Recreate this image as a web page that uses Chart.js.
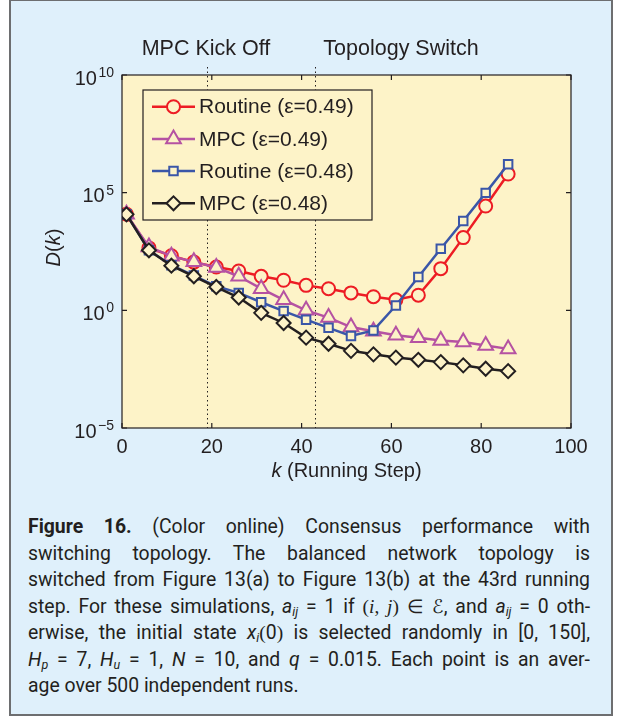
<!DOCTYPE html>
<html>
<head>
<meta charset="utf-8">
<script src="https://cdn.jsdelivr.net/npm/chart.js@4.4.1/dist/chart.umd.min.js"></script>
<style>
  body { margin: 0; background: #ffffff; }
  #frame {
    position: absolute; left: 9px; top: -1px; width: 600px; height: 713px;
    border: 2px solid #6d6e70; background: #dff0fb;
  }
  #plot { position: absolute; left: 0; top: 0; }
  #caption {
    position: absolute; left: 28px; top: 514px; width: 562px;
    font-family: Roboto, "Liberation Sans", sans-serif; font-size: 19.4px;
    line-height: 26.5px; color: #231f20;
  }
  #caption .ln { text-align: justify; text-align-last: justify; white-space: nowrap; }
  #caption .ln.last { text-align-last: left; }
  #caption sub { font-size: 12.5px; line-height: 0; vertical-align: -3px; }
  #caption .m { font-family: "Liberation Serif", serif; }
</style>
</head>
<body>
<div id="frame"></div>
<canvas id="plot" width="623" height="500"></canvas>
<div id="caption">
  <div class="ln"><b>Figure 16.</b> (Color online) Consensus performance with</div>
  <div class="ln">switching topology. The balanced network topology is</div>
  <div class="ln">switched from Figure 13(a) to Figure 13(b) at the 43rd running</div>
  <div class="ln">step. For these simulations, <i>a</i><sub><i>ij</i></sub> = 1 if <span class="m">(<i>i</i>, <i>j</i>) ∈ ℰ</span>, and <i>a</i><sub><i>ij</i></sub> = 0 oth-</div>
  <div class="ln">erwise, the initial state <i>x</i><sub><i>i</i></sub><span class="m">(</span>0<span class="m">)</span> is selected randomly in [0, 150],</div>
  <div class="ln"><i>H</i><sub><i>p</i></sub> = 7, <i>H</i><sub><i>u</i></sub> = 1, <i>N</i> = 10, and <i>q</i> = 0.015. Each point is an aver-</div>
  <div class="ln last">age over 500 independent runs.</div>
</div>
<script>
// running steps where D(k) was sampled
const steps = [1, 6, 11, 16, 21, 26, 31, 36, 41, 46, 51, 56, 61, 66, 71, 76, 81, 86];

// D(k) for each scheme
const routine049 = [1.2e4, 450, 210, 112, 69, 47, 28, 19, 11.5, 8.3, 5.5, 3.8, 2.8, 4.4, 59, 1230, 2.7e4, 6.2e5];
const mpc049     = [1.2e4, 490, 200, 115, 66, 28, 8.3, 2.8, 1.0, 0.49, 0.195, 0.13, 0.087, 0.069, 0.052, 0.045, 0.032, 0.023];
const routine048 = [1.2e4, 355, 83, 30, 10.5, 5.5, 2.2, 0.93, 0.4, 0.18, 0.081, 0.14, 1.6, 26, 410, 6300, 9.8e4, 1.6e6];
const mpc048     = [1.2e4, 355, 79, 28, 9.8, 3.5, 0.78, 0.29, 0.069, 0.038, 0.019, 0.0135, 0.0098, 0.0079, 0.0063, 0.0046, 0.0033, 0.0026];

const seriesNames = ['Routine (ε=0.49)', 'MPC (ε=0.49)', 'Routine (ε=0.48)', 'MPC (ε=0.48)'];

const xTicks = [0, 20, 40, 60, 80, 100];
const yTicks = [1e-5, 1, 1e5, 1e10];

// events marked with dotted lines
const eventSteps = [19, 43];
const eventLabels = ['MPC Kick Off', 'Topology Switch'];

const PLOT_BG = '#fdf3c8';
const INK = '#231f20';
const FONT = '"Liberation Sans", Arial, sans-serif';

function series(vals) {
  return steps.map((k, i) => ({ x: k, y: vals[i] }));
}

function styled(label, vals, color, style, radius, order) {
  return {
    label: label,
    data: series(vals),
    borderColor: color,
    borderWidth: 2.5,
    pointStyle: style,
    pointRadius: radius,
    pointBorderWidth: 2,
    pointBorderColor: color,
    pointBackgroundColor: PLOT_BG,
    tension: 0,
    order: order
  };
}

// "10" with a raised exponent, right aligned at xr
function powLabel(ctx, exp, xr, y) {
  const e = exp < 0 ? '\u2212' + (-exp) : String(exp);
  ctx.textBaseline = 'middle';
  ctx.textAlign = 'right';
  ctx.font = '14px ' + FONT;
  ctx.fillText(e, xr, y - 2);
  const ew = ctx.measureText(e).width;
  ctx.font = '20px ' + FONT;
  ctx.fillText('10', xr - ew - 1.5, y + 4);
}

// draws a run of [text, italic] pieces starting at x
function pieces(ctx, parts, x, y) {
  parts.forEach(p => {
    ctx.font = (p[1] ? 'italic ' : '') + '20px ' + FONT;
    ctx.fillText(p[0], x, y);
    x += ctx.measureText(p[0]).width;
  });
}
function piecesWidth(ctx, parts) {
  let w = 0;
  parts.forEach(p => {
    ctx.font = (p[1] ? 'italic ' : '') + '20px ' + FONT;
    w += ctx.measureText(p[0]).width;
  });
  return w;
}

const decor = {
  id: 'decor',
  beforeDatasetsDraw(chart) {
    const { ctx, chartArea: a, scales: { x } } = chart;
    ctx.save();
    ctx.fillStyle = PLOT_BG;
    ctx.fillRect(a.left, a.top, a.right - a.left, a.bottom - a.top);
    ctx.strokeStyle = INK;
    ctx.lineWidth = 1;
    ctx.setLineDash([1.5, 3]);
    eventSteps.forEach(k => {
      const px = Math.round(x.getPixelForValue(k)) + 0.5;
      ctx.beginPath();
      ctx.moveTo(px, a.top - 8);
      ctx.lineTo(px, a.bottom);
      ctx.stroke();
    });
    ctx.restore();
  },
  afterDatasetsDraw(chart) {
    const { ctx, chartArea: a, scales: { x, y } } = chart;
    const ds = chart.data.datasets;
    ctx.save();
    ctx.fillStyle = INK;
    ctx.strokeStyle = INK;

    // axes box and inward ticks
    ctx.lineWidth = 1.2;
    ctx.strokeRect(a.left, a.top, a.right - a.left, a.bottom - a.top);
    ctx.beginPath();
    xTicks.forEach(v => {
      const px = x.getPixelForValue(v);
      ctx.moveTo(px, a.bottom); ctx.lineTo(px, a.bottom - 5);
      ctx.moveTo(px, a.top); ctx.lineTo(px, a.top + 5);
    });
    yTicks.forEach(v => {
      const py = y.getPixelForValue(v);
      ctx.moveTo(a.left, py); ctx.lineTo(a.left + 5, py);
      ctx.moveTo(a.right, py); ctx.lineTo(a.right - 5, py);
    });
    ctx.stroke();

    // tick labels
    ctx.font = '20px ' + FONT;
    ctx.textAlign = 'center';
    ctx.textBaseline = 'middle';
    xTicks.forEach(v => ctx.fillText(String(v), x.getPixelForValue(v), a.bottom + 19));
    yTicks.forEach(v => powLabel(ctx, Math.round(Math.log10(v)), a.left - 8, y.getPixelForValue(v)));

    // axis titles
    ctx.textAlign = 'left';
    const xt = [['k', true], [' (Running Step)', false]];
    pieces(ctx, xt, (a.left + a.right) / 2 - piecesWidth(ctx, xt) / 2, a.bottom + 43);
    const yt = [['D', true], ['(', false], ['k', true], [')', false]];
    ctx.save();
    ctx.translate(54, (a.top + a.bottom) / 2 - 4);
    ctx.rotate(-Math.PI / 2);
    pieces(ctx, yt, -piecesWidth(ctx, yt) / 2, 0);
    ctx.restore();

    // event captions above the axes
    ctx.font = '21.5px ' + FONT;
    ctx.textAlign = 'center';
    ctx.fillText(eventLabels[0], 206, 49);
    ctx.fillText(eventLabels[1], 401, 49);

    // legend
    const lx = 143, ly = 90, lw = 229, lh = 130;
    ctx.fillStyle = PLOT_BG;
    ctx.fillRect(lx, ly, lw, lh);
    ctx.lineWidth = 1.2;
    ctx.strokeStyle = INK;
    ctx.strokeRect(lx, ly, lw, lh);
    ds.forEach((d, i) => {
      const ry = ly + 16.7 + i * 32.2;
      ctx.strokeStyle = d.borderColor;
      ctx.lineWidth = 2.5;
      ctx.beginPath();
      ctx.moveTo(lx + 9, ry); ctx.lineTo(lx + 52, ry);
      ctx.stroke();
      ctx.fillStyle = PLOT_BG;
      ctx.lineWidth = 2;
      Chart.helpers.drawPoint(ctx, { pointStyle: d.pointStyle, radius: d.pointRadius, borderWidth: 2, rotation: 0 }, lx + 30.5, ry);
      ctx.fillStyle = INK;
      ctx.font = '21px ' + FONT;
      ctx.textAlign = 'left';
      ctx.textBaseline = 'middle';
      ctx.fillText(seriesNames[i], lx + 56, ry + 1);
    });
    ctx.restore();
  }
};

new Chart(document.getElementById('plot'), {
  type: 'line',
  data: {
    datasets: [
      styled(seriesNames[0], routine049, '#ed1c24', 'circle', 6.5, 4),
      styled(seriesNames[1], mpc049, '#b552a2', 'triangle', 8.5, 3),
      styled(seriesNames[2], routine048, '#3a56a8', 'rect', 6, 2),
      styled(seriesNames[3], mpc048, '#231f20', 'rectRot', 7, 1)
    ]
  },
  options: {
    responsive: false,
    animation: false,
    layout: { padding: { left: 122, top: 75, right: 52, bottom: 72 } },
    plugins: { legend: { display: false }, tooltip: { enabled: false } },
    scales: {
      x: { type: 'linear', min: 0, max: 100, display: false },
      y: { type: 'logarithmic', min: 1e-5, max: 1e10, display: false }
    }
  },
  plugins: [decor]
});
</script>
</body>
</html>
